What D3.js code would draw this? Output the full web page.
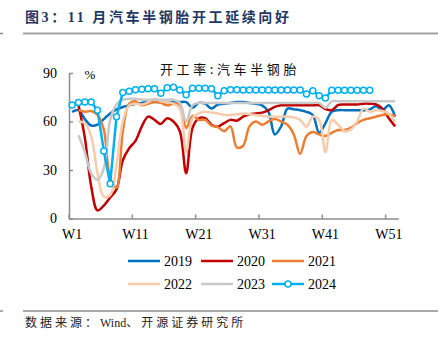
<!DOCTYPE html>
<html>
<head>
<meta charset="utf-8">
<script src="https://cdn.jsdelivr.net/npm/d3@7"></script>
<style>
body{margin:0;background:#fff;}
#mainchart svg{display:block;}
.axis text{font-family:"Liberation Serif","Times New Roman",serif;font-size:14px;fill:#000;}
.axis path,.axis line{stroke:#8c8c8c;stroke-width:1.5;}
.line{fill:none;stroke-width:2.5;stroke-linejoin:round;}
</style>
</head>
<body>
<div id="mainchart"></div>
<script>
var weeks = ["W1","W2","W3","W4","W5","W6","W7","W8","W9","W10","W11","W12","W13","W14","W15","W16","W17","W18","W19","W20","W21","W22","W23","W24","W25","W26",
             "W27","W28","W29","W30","W31","W32","W33","W34","W35","W36","W37","W38","W39","W40","W41","W42","W43","W44","W45","W46","W47","W48","W49","W50","W51","W52"];
var tickWeeks = ["W1","W11","W21","W31","W41","W51"];
var yTicks = [0,30,60,90];
var years = ["2019","2020","2021","2022","2023","2024"];

var v2019 = [66,67,61.5,57.5,58,61.5,65,67.5,69,70,71,71.5,72,72,72,72,72,72,72,68.5,71.5,71,68,70.5,71,71.5,
             72,72,71.5,71,70,66,52,57,68,67.5,67,66,64,53,59,66,67,67,67,67,67,67.5,69.5,67,70,63];
var v2020 = [null,70,50,20,5,8,13,18,36,43.5,48,57,63,61,58.5,62,60,54,28,56,62,62,58,56.8,59,61,
             60.5,63,64.5,65,65.5,67,69,70,70,70,70,70,70,70,67.7,67,70.2,70.5,70.5,70.5,71,71,70.5,68,62,57];
var v2021 = [null,67,66,66.5,64,55,25,19,54,71,72.5,70,71,72,71.5,70,71,70.5,56,63.5,61,61,57.5,56.5,54,57,
             44,45,57,60,58,60,61.5,60,58,52,40,51,53.5,52,51,53,54.7,54.7,56,59,61,62,63,64,64.4,63.4];
var v2022 = [null,60,59,51,28,13.5,14.5,33,60,70,71,70.5,72,74,72.5,72,71,68,41,62,65,66,65.5,65,64,64,
             64.5,65,64.5,64,63.5,63,63,63,63,62.5,61,56.8,63,61,41,61,58,54,55,60,68,66,67,66.5,65,59.5];
var v2023 = [null,51.5,41,28,24,31,61,70.5,73.5,74,74,73.5,73.5,73.5,73.5,73.5,73.5,71.5,60,70,71.5,71.5,71.5,71.5,71.5,71.5,
             71.5,71.5,71.5,71.5,71.5,71.5,71.5,71.5,71.5,71.5,71.5,71.5,71.5,71.5,68.5,72.5,72.5,72.5,72.5,72.5,72.5,72.5,72.5,72.5,72.5,72.5];
var v2024 = [70.2,71.8,72,72,67,41.8,21.5,63,78,78.7,79.6,80,80.3,80.3,77.5,80.8,81.2,79.5,76.5,80.5,
             80.5,80.5,80.3,76,79,79.6,79.6,79.5,79.5,79.5,79.5,79.5,79.5,79.5,79.5,79.5,79.5,77,79,76,
             74.5,79.3,79.3,79.3,79.3,79.3,79.3,79.3];

var seriesValues = [v2019, v2020, v2021, v2022, v2023, v2024];
var colors = ["#0070C0","#C00000","#ED7D31","#F8CBAD","#C8C8C8","#00B0F0"];

function drawChart(){
  var width = 438, height = 344,
      left = 69, right = 398.3, top = 73, bottom = 218.5;

  var svg = d3.select("#mainchart").append("svg")
    .attr("width", width)
    .attr("height", height);

  // title + rules
  svg.append("text").attr("x", 25).attr("y", 21.5)
    .style("font-family", '"Liberation Serif","Noto Sans CJK SC",serif')
    .style("font-size", "14px").style("font-weight", "bold")
    .style("letter-spacing", "2.6px").attr("fill", "#1f3864")
    .text("图3：11 月汽车半钢胎开工延续向好");
  svg.append("line").attr("x1", 23).attr("x2", 438).attr("y1", 33.5).attr("y2", 33.5)
    .attr("stroke", "#a0a0a0").attr("stroke-width", 2);
  svg.append("line").attr("x1", 0).attr("x2", 3).attr("y1", 33.5).attr("y2", 33.5)
    .attr("stroke", "#888").attr("stroke-width", 1.5);
  svg.append("line").attr("x1", 23).attr("x2", 438).attr("y1", 311).attr("y2", 311)
    .attr("stroke", "#555").attr("stroke-width", 1);
  svg.append("line").attr("x1", 0).attr("x2", 3).attr("y1", 311).attr("y2", 311)
    .attr("stroke", "#555").attr("stroke-width", 1);
  var src = svg.append("text").attr("x", 25).attr("y", 327)
    .style("font-family", '"Liberation Serif","Noto Sans CJK SC",serif')
    .style("font-size", "12px").attr("fill", "#222");
  src.append("tspan").style("letter-spacing", "3px").text("数据来源：");
  src.append("tspan").text("Wind");
  src.append("tspan").style("letter-spacing", "3px").text("、开源证券研究所");

  var x = d3.scaleBand().domain(weeks).range([left, right]);
  var y = d3.scaleLinear().domain([0, 90]).range([bottom, top]);

  var xAxis = d3.axisBottom(x).tickValues(tickWeeks).tickSizeInner(-4).tickSizeOuter(0).tickPadding(11);
  var yAxis = d3.axisLeft(y).tickValues(yTicks).tickSizeInner(-4).tickSizeOuter(0).tickPadding(12);

  var gx = svg.append("g")
    .attr("class", "x axis")
    .attr("transform", "translate(0," + bottom + ")")
    .call(xAxis);
  // ticks sit on category boundaries, labels stay centred
  gx.selectAll(".tick line").attr("transform", "translate(" + (-x.bandwidth() / 2) + ",0)");

  svg.append("g")
    .attr("class", "y axis")
    .attr("transform", "translate(" + left + ",0)")
    .call(yAxis);

  svg.append("text").attr("x", 90).attr("y", 79).attr("text-anchor", "middle")
    .style("font-family", '"Liberation Serif",serif').style("font-size", "13px")
    .text("%");

  svg.append("text").attr("x", 160).attr("y", 73.5)
    .style("font-family", '"Noto Sans CJK SC",sans-serif')
    .style("font-size", "13px").style("letter-spacing", "3.6px").attr("fill", "#111")
    .text("开工率:汽车半钢胎");

  seriesValues.forEach(function(vals, k){
    var pts = vals.map(function(v, i){ return {w: weeks[i], v: v}; });
    var line = d3.line()
      .defined(function(d){ return d.v != null; })
      .x(function(d){ return x(d.w) + x.bandwidth() / 2; })
      .y(function(d){ return y(d.v); })
      .curve(k == 5 ? d3.curveLinear : d3.curveCatmullRom.alpha(0.5));

    svg.append("path")
      .datum(pts)
      .attr("class", "line")
      .style("stroke", colors[k])
      .attr("d", line);

    if (k == 5) {
      svg.selectAll("circle.dot").data(pts).enter().append("circle")
        .attr("class", "dot")
        .attr("cx", function(d){ return x(d.w) + x.bandwidth() / 2; })
        .attr("cy", function(d){ return y(d.v); })
        .attr("r", 3)
        .attr("fill", "#fff")
        .attr("stroke", colors[k])
        .attr("stroke-width", 1.5);
    }
  });

  // legend, 3 per row
  var colX = [128, 201, 272], rowY = [261, 284];
  years.forEach(function(yr, i){
    var lx = colX[i % 3], ly = rowY[Math.floor(i / 3)];
    var g = svg.append("g");
    g.append("line").attr("x1", lx).attr("x2", lx + 32).attr("y1", ly).attr("y2", ly)
      .attr("stroke", colors[i]).attr("stroke-width", 2.5);
    if (i == 5) {
      g.append("circle").attr("cx", lx + 16).attr("cy", ly).attr("r", 3)
        .attr("fill", "#fff").attr("stroke", colors[i]).attr("stroke-width", 1.5);
    }
    g.append("text").attr("x", lx + 36).attr("y", ly + 5)
      .style("font-family", '"Liberation Serif",serif').style("font-size", "14px")
      .text(yr);
  });
}

drawChart();
</script>
</body>
</html>
